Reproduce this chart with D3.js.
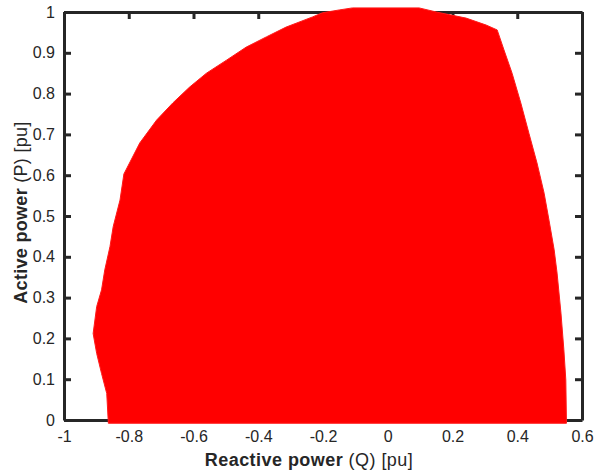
<!DOCTYPE html>
<html>
<head>
<meta charset="utf-8">
<script src="https://cdn.jsdelivr.net/npm/d3@7"></script>
<style>
  body { margin: 0; background: #fff; }
  text { font-family: "Liberation Sans", Arial, Helvetica, sans-serif; fill: #262626; }
</style>
</head>
<body>
<div id="chart"></div>
<script>
// boundary of the feasible P-Q region, traced counter-clockwise from bottom-left
const boundaryQ = [-0.863, -0.868, -0.884, -0.899, -0.910, -0.899, -0.884, -0.874, -0.858, -0.848,
  -0.827, -0.815, -0.766, -0.714, -0.664, -0.612, -0.560, -0.498, -0.437, -0.375,
  -0.314, -0.232, -0.202, -0.150, -0.109, 0.097, 0.150, 0.242, 0.304, 0.338,
  0.359, 0.384, 0.411, 0.436, 0.461, 0.483, 0.498, 0.514, 0.523, 0.535,
  0.544, 0.550, 0.552];
const boundaryP = [-0.008, 0.065, 0.114, 0.163, 0.212, 0.278, 0.319, 0.368, 0.425, 0.474,
  0.539, 0.603, 0.679, 0.735, 0.777, 0.816, 0.850, 0.882, 0.914, 0.939,
  0.963, 0.988, 0.998, 1.005, 1.010, 1.010, 1.000, 0.985, 0.968, 0.956,
  0.907, 0.850, 0.777, 0.703, 0.630, 0.556, 0.490, 0.417, 0.360, 0.262,
  0.172, 0.098, -0.008];

const xTicks = [-1, -0.8, -0.6, -0.4, -0.2, 0, 0.2, 0.4, 0.6];
const yTicks = [0, 0.1, 0.2, 0.3, 0.4, 0.5, 0.6, 0.7, 0.8, 0.9, 1];

const width = 595, height = 471;
const margin = {top: 12, right: 13, bottom: 51, left: 64};

const x = d3.scaleLinear().domain([-1, 0.6]).range([margin.left, width - margin.right]);
const y = d3.scaleLinear().domain([0, 1]).range([height - margin.bottom, margin.top]);

const svg = d3.select("#chart").append("svg")
  .attr("width", width)
  .attr("height", height);

const tickLen = 7;
const fmt = d => String(d);

const xAxis = d3.axisBottom(x).tickValues(xTicks).tickFormat(fmt)
  .tickSizeInner(-tickLen).tickSizeOuter(0).tickPadding(11);
const yAxis = d3.axisLeft(y).tickValues(yTicks).tickFormat(fmt)
  .tickSizeInner(-tickLen).tickSizeOuter(0).tickPadding(9);
const xTop = d3.axisTop(x).tickValues(xTicks).tickFormat("")
  .tickSizeInner(-tickLen).tickSizeOuter(0);
const yRight = d3.axisRight(y).tickValues(yTicks).tickFormat("")
  .tickSizeInner(-tickLen).tickSizeOuter(0);

function styleAxis(g) {
  g.selectAll("path.domain").attr("stroke", "#262626").attr("stroke-width", 3);
  g.selectAll(".tick line").attr("stroke", "#262626").attr("stroke-width", 3);
  g.selectAll(".tick text").style("font-size", "16px").attr("fill", "#262626");
}

svg.append("g").attr("transform", `translate(0,${y(0)})`).call(xAxis).call(styleAxis);
svg.append("g").attr("transform", `translate(${x(-1)},0)`).call(yAxis).call(styleAxis);
svg.append("g").attr("transform", `translate(0,${y(1)})`).call(xTop).call(styleAxis);
svg.append("g").attr("transform", `translate(${x(0.6)},0)`).call(yRight).call(styleAxis);

// fill region (drawn on top of the axes like the scatter markers)
const pts = boundaryQ.map((q, i) => [q, boundaryP[i]]);
svg.append("path")
  .datum(pts)
  .attr("d", d3.line().x(d => x(d[0])).y(d => y(d[1])).curve(d3.curveLinearClosed))
  .attr("fill", "#ff0000")
  .attr("stroke", "#ff1a1a")
  .attr("stroke-width", 1);

// axis labels
const xl = svg.append("text")
  .attr("x", 309).attr("y", 466)
  .attr("text-anchor", "middle")
  .style("font-size", "18px")
  .style("letter-spacing", "0.45px");
xl.append("tspan").style("font-weight", "bold").text("Reactive power");
xl.append("tspan").text(" (Q) [pu]");

const yl = svg.append("text")
  .attr("transform", "translate(27,212.5) rotate(-90)")
  .attr("text-anchor", "middle")
  .style("font-size", "18px")
  .style("letter-spacing", "0.3px");
yl.append("tspan").style("font-weight", "bold").text("Active power");
yl.append("tspan").text(" (P) [pu]");
</script>
</body>
</html>
